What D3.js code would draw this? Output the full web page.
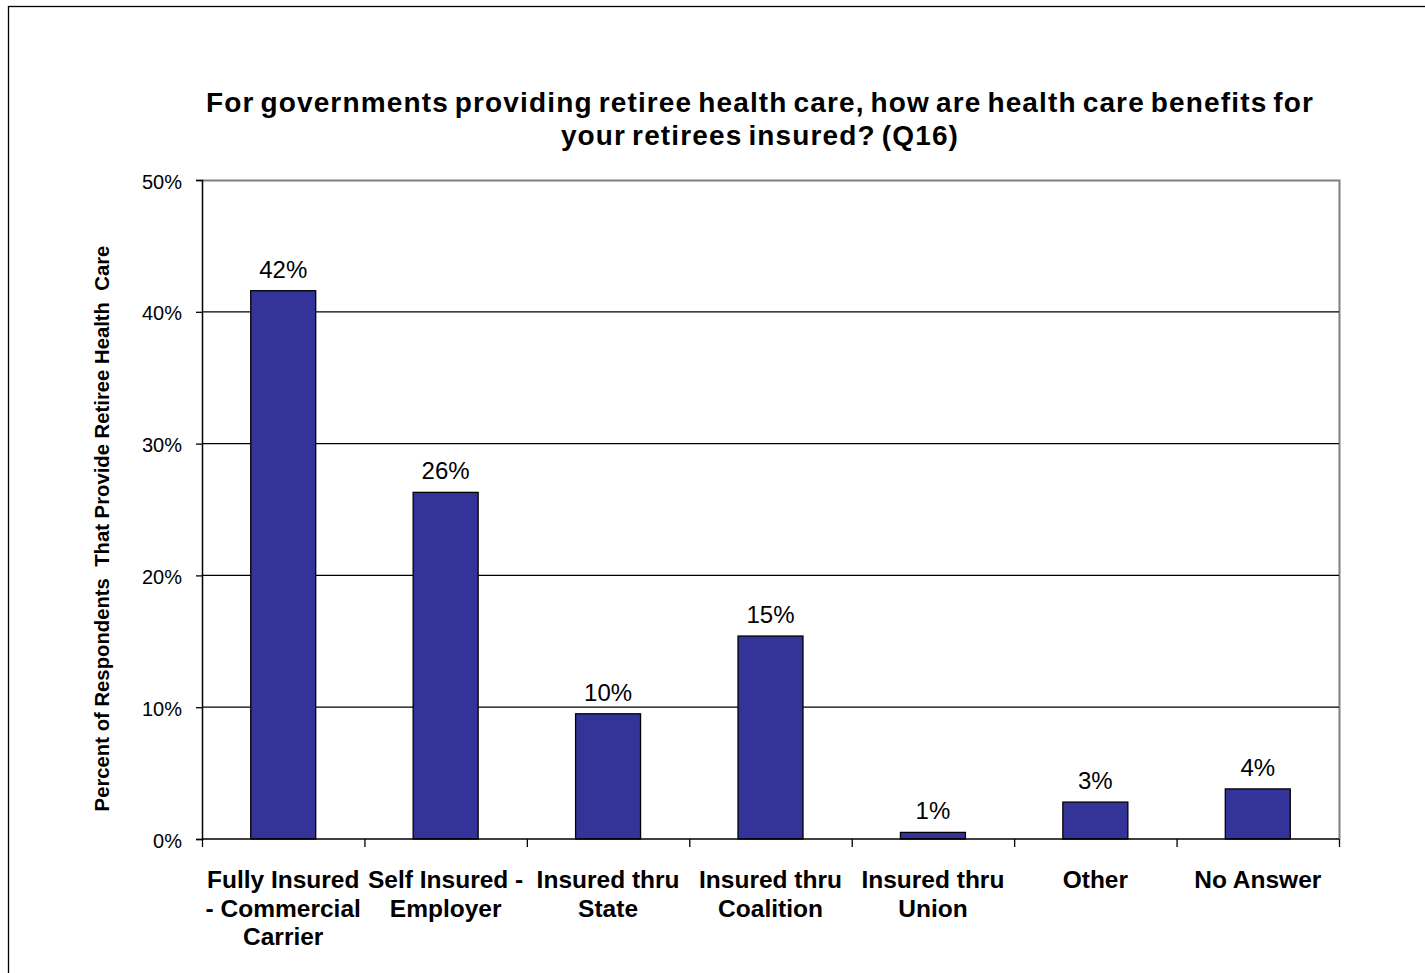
<!DOCTYPE html>
<html>
<head>
<meta charset="utf-8">
<script src="https://cdn.jsdelivr.net/npm/d3@7"></script>
<style>
  html, body { margin: 0; padding: 0; background: #fff; }
  svg { display: block; font-family: "Liberation Sans", Arial, sans-serif; }
</style>
</head>
<body>
<svg id="chart" width="1425" height="973"></svg>
<script>
// Survey responses: how retiree health care benefits are insured (Q16)
const categories = [
  ["Fully Insured", "- Commercial", "Carrier"],
  ["Self Insured -", "Employer"],
  ["Insured thru", "State"],
  ["Insured thru", "Coalition"],
  ["Insured thru", "Union"],
  ["Other"],
  ["No Answer"]
];
const shares = [0.416, 0.263, 0.095, 0.154, 0.005, 0.028, 0.038];
const yTicks = [0, 0.1, 0.2, 0.3, 0.4, 0.5];
const titleLines = [
  "For governments providing retiree health care, how are health care benefits for",
  "your retirees insured? (Q16)"
];
const yTitle = "Percent of Respondents  That Provide Retiree Health  Care";

const svg = d3.select("#chart");
const W = 1425, H = 973;
const plot = { left: 202, top: 180, right: 1339, bottom: 839 };

// outer frame
svg.append("rect")
  .attr("x", 8.5).attr("y", 6.5)
  .attr("width", W + 10).attr("height", H + 10)
  .attr("fill", "none").attr("stroke", "#000").attr("stroke-width", 1.3);

const x = d3.scaleBand()
  .domain(d3.range(categories.length))
  .range([plot.left, plot.right])
  .paddingInner(0.6).paddingOuter(0.3);

const xEdge = d3.scaleLinear()
  .domain([0, categories.length])
  .range([plot.left, plot.right]);

const y = d3.scaleLinear().domain([0, 0.5]).range([plot.bottom, plot.top]);

// plot frame (top and right edges)
svg.append("path")
  .attr("d", `M${plot.left},${plot.top + 0.5}H${plot.right + 0.5}V${plot.bottom}`)
  .attr("fill", "none").attr("stroke", "#808080").attr("stroke-width", 2);

// gridlines
svg.append("g")
  .selectAll("line")
  .data(yTicks.filter(t => t > 0 && t < 0.5))
  .join("line")
  .attr("x1", plot.left).attr("x2", plot.right)
  .attr("y1", d => y(d)).attr("y2", d => y(d))
  .attr("stroke", "#000").attr("stroke-width", 1.3);

// bars
svg.append("g")
  .selectAll("rect")
  .data(shares)
  .join("rect")
  .attr("x", (d, i) => x(i))
  .attr("y", d => y(d))
  .attr("width", x.bandwidth())
  .attr("height", d => y(0) - y(d))
  .attr("fill", "#333399")
  .attr("stroke", "#000").attr("stroke-width", 1.3);

// value labels
const fmt = d3.format(".0%");
svg.append("g")
  .selectAll("text")
  .data(shares)
  .join("text")
  .attr("x", (d, i) => x(i) + x.bandwidth() / 2)
  .attr("y", d => y(d) - 13)
  .attr("text-anchor", "middle")
  .attr("font-size", 24)
  .attr("fill", "#000")
  .text(d => fmt(d));

// y axis
const yAxis = svg.append("g")
  .attr("transform", `translate(${plot.left},0)`)
  .call(d3.axisLeft(y).tickValues(yTicks).tickFormat(d3.format(".0%")).tickSize(6).tickPadding(14));
yAxis.select(".domain").attr("stroke", "#000").attr("stroke-width", 1.5);
yAxis.selectAll(".tick line").attr("stroke", "#000").attr("stroke-width", 1.3);
yAxis.selectAll(".tick text")
  .attr("font-size", 20).attr("fill", "#000")
  .attr("font-family", "Liberation Sans, Arial, sans-serif")
  .attr("dy", "0.4em");

// x axis with ticks at category boundaries
const xAxis = svg.append("g")
  .attr("transform", `translate(0,${plot.bottom})`)
  .call(d3.axisBottom(xEdge).tickValues(d3.range(categories.length + 1)).tickSize(8).tickFormat(""));
xAxis.select(".domain").attr("stroke", "#000").attr("stroke-width", 1.5)
  .attr("d", `M${plot.left},0H${plot.right}`);
xAxis.selectAll(".tick line").attr("stroke", "#000").attr("stroke-width", 1.3);

// category labels
const catG = svg.append("g");
categories.forEach((lines, i) => {
  const cx = x(i) + x.bandwidth() / 2;
  const t = catG.append("text")
    .attr("x", cx)
    .attr("y", 888)
    .attr("text-anchor", "middle")
    .attr("font-size", 24.5)
    .attr("font-weight", "bold")
    .attr("fill", "#000");
  lines.forEach((ln, k) => {
    t.append("tspan")
      .attr("x", cx)
      .attr("dy", k === 0 ? 0 : 28.5)
      .text(ln);
  });
});

// title
const title = svg.append("text")
  .attr("x", 760).attr("y", 112)
  .attr("text-anchor", "middle")
  .attr("font-size", 28)
  .attr("font-weight", "bold")
  .attr("letter-spacing", 1.15)
  .attr("word-spacing", -3)
  .attr("fill", "#000");
titleLines.forEach((ln, k) => {
  title.append("tspan").attr("x", 760).attr("dy", k === 0 ? 0 : 33).text(ln);
});

// y axis title
svg.append("text")
  .attr("transform", `translate(109,${(plot.top + plot.bottom) / 2 + 19}) rotate(-90)`)
  .attr("text-anchor", "middle")
  .attr("font-size", 20.3)
  .attr("font-weight", "bold")
  .attr("fill", "#000")
  .style("white-space", "pre")
  .text(yTitle);
</script>
</body>
</html>
